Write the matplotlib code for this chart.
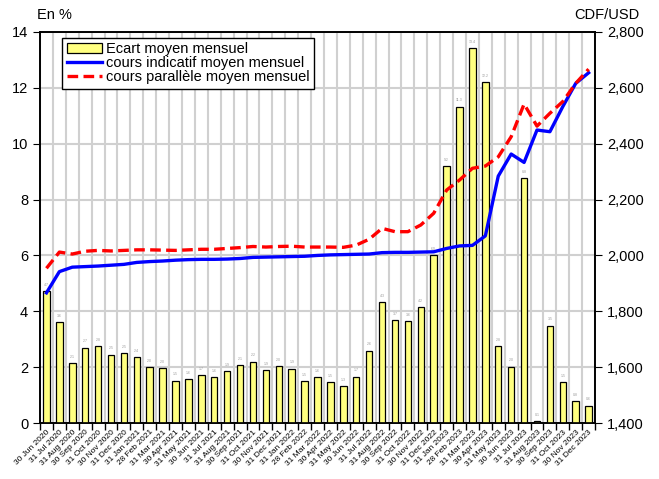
import matplotlib.pyplot as plt
import numpy as np
from matplotlib.ticker import FuncFormatter, FixedLocator
from matplotlib.patches import Patch
from matplotlib.lines import Line2D

plt.rcParams['font.family'] = ['Liberation Sans', 'DejaVu Sans']

months = ["30 Jun 2020", "31 Jul 2020", "31 Aug 2020", "30 Sep 2020",
          "31 Oct 2020", "30 Nov 2020", "31 Dec 2020", "31 Jan 2021",
          "28 Feb 2021", "31 Mar 2021", "30 Apr 2021", "31 May 2021",
          "30 Jun 2021", "31 Jul 2021", "31 Aug 2021", "30 Sep 2021",
          "31 Oct 2021", "30 Nov 2021", "31 Dec 2021", "31 Jan 2022",
          "28 Feb 2022", "31 Mar 2022", "30 Apr 2022", "31 May 2022",
          "30 Jun 2022", "31 Jul 2022", "31 Aug 2022", "30 Sep 2022",
          "31 Oct 2022", "30 Nov 2022", "31 Dec 2022", "31 Jan 2023",
          "28 Feb 2023", "31 Mar 2023", "30 Apr 2023", "31 May 2023",
          "30 Jun 2023", "31 Jul 2023", "31 Aug 2023", "30 Sep 2023",
          "31 Oct 2023", "30 Nov 2023", "31 Dec 2023"]

# ecart moyen mensuel (en %)
ecart = [4.73, 3.62, 2.15, 2.70, 2.75, 2.45, 2.50, 2.35, 2.00, 1.98,
         1.52, 1.57, 1.72, 1.65, 1.85, 2.08, 2.20, 1.88, 2.05, 1.95,
         1.50, 1.65, 1.46, 1.32, 1.66, 2.59, 4.33, 3.69, 3.65, 4.15,
         6.02, 9.20, 11.33, 13.42, 12.22, 2.76, 2.02, 8.78, 0.08, 3.49,
         1.46, 0.77, 0.62]

# cours indicatif moyen mensuel (CDF/USD)
indicatif = [1866, 1942, 1958, 1960, 1962, 1965, 1968, 1975, 1978, 1980,
             1983, 1985, 1986, 1986, 1987, 1989, 1993, 1994, 1995, 1996,
             1997, 2000, 2002, 2003, 2004, 2005, 2010, 2011, 2011, 2012,
             2013, 2025, 2034, 2036, 2070, 2284, 2363, 2333, 2449, 2443,
             2533, 2616, 2654]

# cours parallele moyen mensuel (CDF/USD)
parallele = [1954, 2012, 2005, 2015, 2018, 2016, 2018, 2020, 2020, 2019,
             2018, 2020, 2022, 2022, 2025, 2028, 2032, 2030, 2032, 2033,
             2030, 2030, 2030, 2029, 2037, 2058, 2097, 2085, 2085, 2109,
             2151, 2234, 2270, 2312, 2320, 2353, 2425, 2542, 2463, 2509,
             2551, 2616, 2667]

fig = plt.figure(figsize=(6.59, 4.79), dpi=100)
ax = fig.add_axes([0.0607, 0.1169, 0.8423, 0.8163])
ax2 = ax.twinx()

x = np.arange(len(months))
ax.bar(x, ecart, width=0.5, color='#ffff80', edgecolor='black',
       linewidth=0.9, zorder=3)
for xi, v in zip(x, ecart):
    ax.text(xi, v + 0.15, f"{v:.1f}", fontsize=2.5, color='#999999',
            ha='center', va='bottom', zorder=4)

ax2.plot(x, indicatif, color='#0000ff', lw=2.4, zorder=5)
ax2.plot(x, parallele, color='#ff0000', lw=2.4, dashes=(3.2, 1.6), zorder=6)

ax.set_xlim(-0.5, len(months) - 0.5)
ax.set_ylim(0, 14)
ax2.set_ylim(1400, 2800)
ax.set_yticks(np.arange(0, 15, 2))
ax2.set_yticks(np.arange(1400, 2801, 200))
ax2.yaxis.set_major_formatter(FuncFormatter(lambda v, p: f"{v:,.0f}"))

ax.xaxis.set_major_locator(FixedLocator(np.arange(-0.5, len(months))))
ax.xaxis.set_major_formatter(FuncFormatter(lambda v, p: ""))
ax.set_xticks(x, minor=True)
ax.set_xticklabels(months, minor=True, rotation=45, ha='right',
                   rotation_mode='anchor', fontsize=6)
ax.tick_params(axis='x', which='major', length=5, width=1)
ax.tick_params(axis='x', which='minor', length=0, pad=4)
ax.tick_params(axis='y', length=5, labelsize=10.5)
ax2.tick_params(axis='y', length=5, labelsize=10.5)

ax.grid(True, which='major', color='#d0d0d0', lw=1.5, zorder=0)
ax.set_axisbelow(True)
for sp in list(ax.spines.values()) + list(ax2.spines.values()):
    sp.set_linewidth(1.2)

fig.text(0.056, 0.968, "En %", fontsize=10.5, ha='left', va='center')
fig.text(0.97, 0.968, "CDF/USD", fontsize=10.5, ha='right', va='center')

handles = [Patch(facecolor='#ffff80', edgecolor='black', lw=0.9),
           Line2D([], [], color='#0000ff', lw=2.4),
           Line2D([], [], color='#ff0000', lw=2.4, dashes=(3.2, 1.6))]
labels = ["Ecart moyen mensuel", "cours indicatif moyen mensuel",
          "cours parallèle moyen mensuel"]
leg = ax2.legend(handles, labels, loc='upper left',
                 bbox_to_anchor=(0.04, 0.985), fontsize=10.5,
                 frameon=True, fancybox=False, edgecolor='black',
                 framealpha=1, borderpad=0.3, labelspacing=0.0,
                 handlelength=2.4, handletextpad=0.3, borderaxespad=0)
leg.get_frame().set_linewidth(1.0)

fig.savefig("out.png", dpi=100)
